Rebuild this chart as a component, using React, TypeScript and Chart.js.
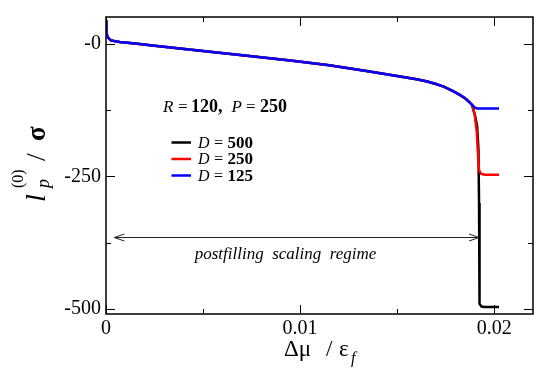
import React, { useEffect, useRef } from 'react';
import { Chart, registerables } from 'chart.js';

Chart.register(...registerables);

// ---- data ----
const D_VALUES = [500, 250, 125];
const SERIES_COLORS = ['#000000', '#ff0000', '#0000ff'];

// shared postfilling branch
const commonX = [0, 0.00002, 0.00008, 0.00025, 0.0007, 0.0015, 0.0025, 0.005, 0.0075, 0.0095, 0.0115, 0.0135, 0.01515, 0.016, 0.0165, 0.017, 0.0174, 0.01775, 0.018, 0.01825, 0.0185, 0.01875];
const commonY = [44, 20, 12, 6, 3, 0, -4, -14, -24, -32, -41, -52, -62, -67, -71, -76, -81, -87, -92, -97, -103, -111];

// tails after the branch splits
const tail500X = [0.01886, 0.019, 0.01912, 0.01919, 0.01922, 0.01923, 0.01926, 0.01935, 0.0195, 0.02025];
const tail500Y = [-116, -133, -155, -200, -300, -480, -490, -495, -496, -496];
const tail250X = [0.01886, 0.019, 0.0191, 0.01917, 0.01922, 0.01932, 0.0195, 0.02025];
const tail250Y = [-115, -135, -165, -210, -238, -245, -247, -247];
const tail125X = [0.0189, 0.01901, 0.01912, 0.0195, 0.02025];
const tail125Y = [-117, -120.5, -122, -122, -122];

const xMajor = [0, 0.01, 0.02];
const xMinor = [0.005, 0.015];
const xTickLabels = ['0', '0.01', '0.02'];
const yMajor = [0, -250, -500];
const yMinor = [-125, -375];
const yTickLabels = ['-0', '-250', '-500'];

const X_MIN = 0;
const X_MAX = 0.022;
const Y_MIN = -509;
const Y_MAX = 50;

// arrow of the "postfilling scaling regime"
const arrowX = [0.00043, 0.01922];
const arrowY = -365;
const regimeText = 'postfilling  scaling  regime';

const SERIF = '"Liberation Serif", "Times New Roman", serif';

const toPts = (xs: number[], ys: number[]) => xs.map((x, i) => ({ x, y: ys[i] }));

const decorPlugin = {
  id: 'decor',
  afterDraw(chart: any) {
    const { ctx, chartArea: a, scales } = chart;
    const xs = scales.x;
    const ys = scales.y;
    ctx.save();
    // frame
    ctx.strokeStyle = '#000';
    ctx.lineWidth = 1.5;
    ctx.strokeRect(a.left, a.top, a.right - a.left, a.bottom - a.top);
    // inward ticks on all four sides
    ctx.lineWidth = 1;
    const seg = (x1: number, y1: number, x2: number, y2: number) => {
      ctx.beginPath();
      ctx.moveTo(x1, y1);
      ctx.lineTo(x2, y2);
      ctx.stroke();
    };
    const xt: [number[], number][] = [[xMajor, 9], [xMinor, 5]];
    for (const [vals, len] of xt) {
      for (const v of vals) {
        const px = Math.round(xs.getPixelForValue(v)) + 0.5;
        seg(px, a.bottom, px, a.bottom - len);
        seg(px, a.top, px, a.top + len);
      }
    }
    const yt: [number[], number][] = [[yMajor, 9], [yMinor, 5]];
    for (const [vals, len] of yt) {
      for (const v of vals) {
        const py = Math.round(ys.getPixelForValue(v)) + 0.5;
        seg(a.left, py, a.left + len, py);
        seg(a.right, py, a.right - len, py);
      }
    }

    // double-headed arrow
    const ax1 = xs.getPixelForValue(arrowX[0]);
    const ax2 = xs.getPixelForValue(arrowX[1]);
    const ay = Math.round(ys.getPixelForValue(arrowY)) + 0.5;
    ctx.strokeStyle = '#222';
    ctx.lineWidth = 1;
    seg(ax1, ay, ax2, ay);
    seg(ax1, ay, ax1 + 10, ay - 3.5);
    seg(ax1, ay, ax1 + 10, ay + 3.5);
    seg(ax2, ay, ax2 - 10, ay - 3.5);
    seg(ax2, ay, ax2 - 10, ay + 3.5);

    ctx.fillStyle = '#000';
    ctx.textBaseline = 'alphabetic';
    ctx.textAlign = 'center';
    ctx.font = `italic 17px ${SERIF}`;
    ctx.fillText(regimeText, 285.5, 259);

    // parameters line: R = 120,  P = 250
    ctx.textAlign = 'left';
    const parts: [string, string, number][] = [
      ['R', `italic 17px ${SERIF}`, 163],
      ['=', `17px ${SERIF}`, 178],
      ['120,', `bold 18px ${SERIF}`, 191],
      ['P', `italic 17px ${SERIF}`, 231.5],
      ['=', `17px ${SERIF}`, 246],
      ['250', `bold 18px ${SERIF}`, 260],
    ];
    for (const [t, f, x] of parts) {
      ctx.font = f;
      ctx.fillText(t, x, 112);
    }

    // legend
    const legendY = [142.5, 159, 175.5];
    D_VALUES.forEach((d, i) => {
      const y = legendY[i];
      ctx.strokeStyle = SERIES_COLORS[i];
      ctx.lineWidth = 2.5;
      seg(171.5, y, 191, y);
      ctx.fillStyle = '#000';
      ctx.font = `italic 16px ${SERIF}`;
      ctx.fillText('D', 198, y + 5);
      ctx.font = `16px ${SERIF}`;
      ctx.fillText('=', 214, y + 5);
      ctx.font = `bold 17px ${SERIF}`;
      ctx.fillText(String(d), 227.5, y + 5);
    });

    // x-axis title: Δμ / ε_f
    ctx.fillStyle = '#000';
    ctx.font = `23px ${SERIF}`;
    ctx.fillText('\u0394\u03bc', 284, 356);
    ctx.fillText('/', 326, 356);
    ctx.fillText('\u03b5', 339, 356);
    ctx.font = `italic 16px ${SERIF}`;
    ctx.fillText('f', 351, 363);

    // y-axis title: l_p^(0) / σ  (rotated)
    ctx.save();
    ctx.translate(45, 202);
    ctx.rotate(-Math.PI / 2);
    ctx.font = `italic 28px ${SERIF}`;
    ctx.fillText('l', 0, 0);
    ctx.font = `italic 18px ${SERIF}`;
    ctx.fillText('p', 14, 4);
    ctx.font = `16px ${SERIF}`;
    ctx.fillText('(0)', 14, -22);
    ctx.font = `28px ${SERIF}`;
    ctx.fillText('/', 41, 0);
    ctx.font = `bold 27px ${SERIF}`;
    ctx.fillText('\u03c3', 61, 0);
    ctx.restore();

    ctx.restore();
  },
};

export default function App() {
  const ref = useRef<HTMLCanvasElement>(null);
  useEffect(() => {
    const canvas = ref.current;
    if (!canvas) return;
    const series = [
      [...toPts(commonX, commonY), ...toPts(tail500X, tail500Y)],
      [...toPts(commonX, commonY), ...toPts(tail250X, tail250Y)],
      [...toPts(commonX, commonY), ...toPts(tail125X, tail125Y)],
    ];
    const tickFont = { family: SERIF, size: 20 };
    const chart = new Chart(canvas, {
      type: 'line',
      data: {
        datasets: D_VALUES.map((d, i) => ({
          label: `D = ${d}`,
          data: series[i],
          borderColor: SERIES_COLORS[i],
          backgroundColor: SERIES_COLORS[i],
          borderWidth: 2.5,
          pointRadius: 0,
          tension: 0,
          fill: false,
          order: 3 - i,
        })),
      },
      options: {
        responsive: false,
        animation: false,
        devicePixelRatio: 1,
        layout: { padding: { top: 5, right: 7, left: 0, bottom: 0 } },
        plugins: { legend: { display: false }, tooltip: { enabled: false } },
        scales: {
          x: {
            type: 'linear',
            min: X_MIN,
            max: X_MAX,
            grid: { display: false, drawTicks: false },
            border: { display: false },
            ticks: {
              font: tickFont,
              color: '#000',
              padding: 3,
              maxRotation: 0,
              callback: (v: any) => {
                const i = xMajor.indexOf(Number(v));
                return i >= 0 ? xTickLabels[i] : '';
              },
            },
            afterBuildTicks: (s: any) => {
              s.ticks = xMajor.map((v) => ({ value: v }));
            },
            afterFit: (s: any) => {
              s.height = 63;
            },
          },
          y: {
            type: 'linear',
            min: Y_MIN,
            max: Y_MAX,
            grid: { display: false, drawTicks: false },
            border: { display: false },
            ticks: {
              font: tickFont,
              color: '#000',
              padding: 5,
              callback: (v: any) => {
                const i = yMajor.indexOf(Number(v));
                return i >= 0 ? yTickLabels[i] : '';
              },
            },
            afterBuildTicks: (s: any) => {
              s.ticks = yMajor.map((v) => ({ value: v }));
            },
            afterFit: (s: any) => {
              s.width = 106;
            },
          },
        },
      },
      plugins: [decorPlugin],
    } as any);
    return () => chart.destroy();
  }, []);
  return (
    <div style={{ position: 'fixed', left: 0, top: 0, width: 540, height: 377, background: '#fff' }}>
      <canvas ref={ref} width={540} height={377} style={{ display: 'block', width: 540, height: 377 }} />
    </div>
  );
}
